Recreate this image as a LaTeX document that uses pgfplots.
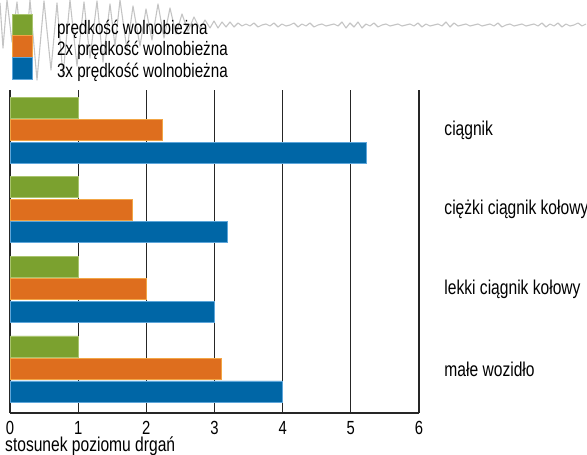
\documentclass[border=0pt]{standalone}
\usepackage{pgfplots}
\pgfplotsset{compat=1.18}
\usepackage{fontspec}
\setmainfont{Liberation Sans}[FakeStretch=0.78]
\definecolor{cgreen}{HTML}{7BA12F}
\definecolor{cgreenl}{HTML}{A9C46E}
\definecolor{corange}{HTML}{DE6E1E}
\definecolor{corangel}{HTML}{F2A545}
\definecolor{cblue}{HTML}{0066A6}
\definecolor{cbluel}{HTML}{5EA6DA}
\definecolor{wavegray}{HTML}{C4C4C4}
\definecolor{gridc}{HTML}{262626}
\begin{document}
\begin{tikzpicture}
\useasboundingbox (-10pt,-42pt) rectangle (577pt,413pt);
\begin{axis}[at={(-10pt,413pt)}, anchor=north west, scale only axis,
  width=587pt, height=455pt, xmin=0, xmax=587, ymin=0, ymax=455,
  y dir=reverse, hide axis]
\addplot[color=wavegray, line width=1.1pt, line join=round, mark=none] coordinates {
(0,3) (3,48) (7,0) (12,42) (17,2) (24,74) (30,0) (37,80) (44,1) (51,70) (57,3) (63,76) (70,0) (77,66) (84,2) (90,58) (97,1) (103,62) (110,4) (115,46) (120,0) (127,50) (133,6) (140,46) (146,9) (152,40) (158,4) (164,38) (170,8) (176,34) (182,14) (188,31) (194,17) (200,29) (205,20) (210,28) (214,21) (218,28) (222,22) (226,27) (230,22) (234,27) (238,23) (242,26)
(246,24) (250,26) (254,23) (258,27) (262,25) (266,24) (270,26) (274,23) (278,27) (282,24) (286,26) (290,25) (294,23) (298,27) (302,24) (306,26) (310,23) (314,27) (318,25) (322,24) (326,26) (330,25) (334,24) (338,26) (342,22) (346,28) (350,23) (354,27) (358,22) (362,28) (366,24) (370,26) (374,23) (378,27) (382,25) (386,24) (390,26) (394,25) (398,24) (402,26) (406,25) (410,24) (414,26) (418,23) (422,27) (426,24) (430,26) (434,25) (438,24) (442,26) (446,22) (450,27) (454,23) (458,26) (462,25) (466,24) (470,26) (474,25) (478,24) (482,26) (486,25) (490,24) (494,26) (498,23) (502,27) (506,25) (510,24) (514,26) (518,25) (522,24) (526,26) (530,25) (534,24) (538,26) (542,23) (546,27) (550,24) (554,26) (558,23) (562,27) (566,24) (570,26) (574,25) (578,23) (582,26) (586,24)
};
\end{axis}
\begin{axis}[at={(0pt,0pt)}, anchor=south west, scale only axis,
  width=409pt, height=323pt,
  xbar, bar width=21pt,
  xmin=0, xmax=6, ymin=-0.553, ymax=3.503,
  xtick={0,1,2,3,4,5,6},
  ytick={0,1,2,3},
  yticklabels={małe wozidło, lekki ciągnik kołowy, ciężki ciągnik kołowy, ciągnik},
  yticklabel pos=right,
  /pgf/number format/assume math mode=true,
  xticklabel style={font=\fontsize{19}{21}\selectfont, inner sep=0pt, anchor=north, yshift=-8pt},
  yticklabel style={font=\fontsize{20}{22}\selectfont, inner sep=0pt, anchor=west, xshift=21pt},
  axis line style={draw=none},
  tick style={draw=none},
  xmajorgrids,
  major grid style={color=gridc, line width=1.2pt},
  extra y ticks={-0.553}, extra y tick labels={},
  extra y tick style={grid=major, major grid style={color=gridc, line width=1.2pt}},
  xlabel={stosunek poziomu drgań},
  every axis x label/.style={at={(rel axis cs:0,0)}, anchor=base west, xshift=-5pt, yshift=-39pt, inner sep=0pt, font=\fontsize{20}{22}\selectfont},
  legend image code/.code={\draw[#1, overlay] (0pt,-9.75pt) rectangle (20pt,12.25pt); \path[draw=none, fill=none] (0pt,-2.5pt) rectangle (45pt,2.5pt);},
  legend cell align=left,
  legend style={at={(0,1)}, anchor=north west, xshift=2pt, yshift=74.5pt,
    draw=none, fill=none, inner sep=0pt, outer sep=0pt, row sep=0pt,
    nodes={inner sep=0pt, outer sep=0pt, text height=19pt, text depth=2.5pt,
      font=\fontsize{19.5}{21}\selectfont}},
]
\addplot[fill=cgreen, draw=cgreenl, line width=0.8pt, bar shift=22.5pt] coordinates {(1,0) (1,1) (1,2) (1,3)};
\addplot[fill=corange, draw=corangel, line width=0.8pt, bar shift=0pt] coordinates {(3.1,0) (2,1) (1.8,2) (2.23,3)};
\addplot[fill=cblue, draw=cbluel, line width=0.8pt, bar shift=-22.5pt] coordinates {(4,0) (3,1) (3.19,2) (5.23,3)};
\legend{prędkość wolnobieżna, 2x prędkość wolnobieżna, 3x prędkość wolnobieżna}
\end{axis}
\end{tikzpicture}
\end{document}
